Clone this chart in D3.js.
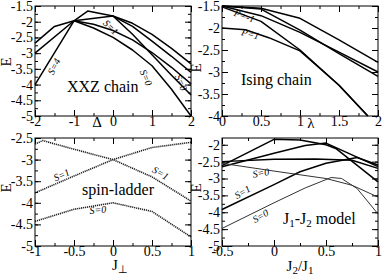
<!DOCTYPE html>
<html><head><meta charset="utf-8">
<script src="https://cdn.jsdelivr.net/npm/d3@7"></script>
<style>body{margin:0;background:#fff} svg text{font-family:"Liberation Serif",serif;fill:#000}</style>
</head><body><svg id="c" width="382" height="277"></svg>
<script>
// ---------- data ----------
// XXZ chain (x = Delta)
const xxzTicksX = [-2, -1, 0, 1, 2];
const xxzTicksY = [-5, -4.5, -4, -3.5, -3, -2.5, -2, -1.5];
const xxzA = [[-2,-2.68],[-1.5,-2.15],[-1,-1.97],[-0.5,-2.08],[0,-2.28],[0.5,-2.58],[1,-2.98],[1.5,-3.45],[2,-3.98]];
const xxzB = [[-2,-3.0],[-1,-1.97],[-0.65,-1.66],[0,-1.82],[0.5,-2.05],[1,-2.4],[1.5,-2.85],[2,-3.34]];
const xxzC = [[-2,-4.0],[-1,-1.97],[0,-1.82],[0.5,-2.15],[1,-2.62],[1.5,-3.1],[2,-3.61]];
const xxzD = [[-1,-1.97],[-0.5,-2.2],[0,-2.5],[0.5,-2.9],[1,-3.4],[1.5,-4.15],[2,-5.0]];
const xxzE = [[0,-1.82],[0.5,-2.4],[1,-3.05],[1.5,-3.7],[2,-4.33]];
// Ising chain (x = lambda)
const isingTicksX = [0, 0.5, 1, 1.5, 2];
const isingTicksY = [-4, -3.5, -3, -2.5, -2, -1.5];
const isingA = [[0,-1.5],[0.5,-1.55],[1,-1.78],[1.5,-2.27],[2,-2.78]];
const isingB = [[0,-1.5],[0.5,-1.57],[1,-2.05],[1.5,-2.58],[2,-3.1]];
const isingC = [[0,-1.5],[0.5,-1.72],[1,-2.1],[1.5,-2.55],[2,-3.0]];
const isingD = [[0,-1.52],[0.5,-1.85],[1,-2.5],[1.5,-3.3],[1.87,-4.0]];
const isingE = [[0,-2.0],[0.3,-2.04],[0.6,-2.22],[1,-2.52],[1.5,-3.3],[1.87,-4.0]];
// spin ladder (x = J_perp)
const ladderTicksX = [-1, -0.5, 0, 0.5, 1];
const ladderTicksY = [-5, -4.5, -4, -3.5, -3, -2.5];
const ladderA = [[-1,-2.64],[-0.9,-2.56],[-0.5,-2.76],[0,-3.0],[0.5,-3.4],[1,-3.96]];
const ladderB = [[-1,-3.77],[-0.5,-3.38],[0,-3.0],[0.5,-2.72],[1,-2.6]];
const ladderC = [[-1,-4.43],[-0.5,-4.15],[0,-4.0],[0.5,-4.2],[1,-4.79]];
// J1-J2 model (x = J2/J1)
const jjTicksX = [-0.5, 0, 0.5, 1];
const jjTicksY = [-5, -4.5, -4, -3.5, -3, -2.5, -2];
const jjThickA = [[-0.5,-2.62],[0,-1.84],[0.25,-1.86],[0.5,-2.0],[0.6,-2.12],[1,-3.1]];
const jjThickB = [[-0.5,-2.65],[0,-2.25],[0.3,-2.02],[0.5,-1.95],[0.75,-2.3],[1,-2.65]];
const jjThickC = [[-0.5,-2.5],[0,-2.43],[0.4,-2.42],[0.75,-2.46],[1,-2.7]];
const jjThickD = [[-0.5,-3.92],[0,-3.18],[0.25,-2.8],[0.5,-2.55],[0.8,-2.38],[1,-2.6]];
const jjThinA = [[-0.5,-2.55],[0,-2.78],[0.5,-3.0],[0.75,-3.2],[1,-3.55]];
const jjThinB = [[-0.5,-4.48],[0,-3.72],[0.3,-3.28],[0.55,-2.97],[0.65,-3.0],[0.8,-3.3],[1,-4.05]];

// ---------- drawing ----------
const FF = 'font-family:"Liberation Serif",serif';
const svg = d3.select('#c');
const line = (xs, ys) => d3.line().x(d => xs(d[0])).y(d => ys(d[1]));
const fmt = v => String(v);

function panel(o) {
  const xs = d3.scaleLinear().domain(o.xd).range([o.l, o.r]);
  const ys = d3.scaleLinear().domain(o.yd).range([o.b, o.t]);
  const g = svg.append('g');
  const minorX = d3.range(o.xd[0], o.xd[1] + 1e-9, o.xMinor);
  const minorY = d3.range(o.yd[0], o.yd[1] + 1e-9, 0.25);
  const styleAxis = sel => {
    sel.attr('font-family', null).attr('font-size', null);
    sel.select('.domain').remove();
    sel.selectAll('line').attr('stroke','#000');
    sel.selectAll('text').attr('style', FF + ';font-size:14px');
  };
  g.append('g').attr('transform',`translate(0,${o.b})`).call(d3.axisBottom(xs).tickValues(minorX).tickSize(-3).tickFormat('')).call(styleAxis);
  g.append('g').attr('transform',`translate(0,${o.t})`).call(d3.axisTop(xs).tickValues(minorX).tickSize(-3).tickFormat('')).call(styleAxis);
  g.append('g').attr('transform',`translate(${o.l},0)`).call(d3.axisLeft(ys).tickValues(minorY).tickSize(-3).tickFormat('')).call(styleAxis);
  g.append('g').attr('transform',`translate(${o.r},0)`).call(d3.axisRight(ys).tickValues(minorY).tickSize(-3).tickFormat('')).call(styleAxis);
  const xa = g.append('g').attr('transform',`translate(0,${o.b})`).call(d3.axisBottom(xs).tickValues(o.xt).tickSize(-6).tickPadding(1).tickFormat(fmt)).call(styleAxis);
  xa.selectAll('text').attr('dy','0.62em');
  g.append('g').attr('transform',`translate(0,${o.t})`).call(d3.axisTop(xs).tickValues(o.xt).tickSize(-6).tickFormat('')).call(styleAxis);
  g.append('g').attr('transform',`translate(${o.l},0)`).call(d3.axisLeft(ys).tickValues(o.yt).tickSize(-6).tickPadding(2).tickFormat(fmt)).call(styleAxis);
  g.append('g').attr('transform',`translate(${o.r},0)`).call(d3.axisRight(ys).tickValues(o.yt).tickSize(-6).tickFormat('')).call(styleAxis);
  const cp = g.append('g');
  o.series.forEach(s => {
    cp.append('path').datum(s.d).attr('d', line(xs, ys)).attr('fill','none')
      .attr('stroke', s.c || '#000').attr('stroke-width', s.w || 1.5)
      .attr('stroke-dasharray', s.dash || null).attr('stroke-linejoin','round');
  });
  g.append('rect').attr('x',o.l).attr('y',o.t).attr('width',o.r-o.l).attr('height',o.b-o.t)
    .attr('fill','none').attr('stroke','#000').attr('stroke-width',1);
  g.append('text').attr('transform',`translate(${o.eX},${o.eY}) rotate(-90)`).attr('text-anchor','middle')
    .attr('style', FF + ';font-size:15px').text('E');
  g.append('text').attr('x',o.titleX).attr('y',o.titleY).attr('style', FF + ';font-size:16px').html(o.title);
  o.labels.forEach(lb => {
    g.append('text').attr('transform',`translate(${lb[0]},${lb[1]}) rotate(${lb[2]})`)
      .attr('text-anchor','middle').attr('dominant-baseline','middle')
      .attr('style', FF + ';font-size:10px;font-style:italic').text(lb[3]);
  });
  return g;
}

const g1 = panel({l:35,r:191,t:6,b:116,xd:[-2,2],yd:[-5,-1.5],xt:xxzTicksX,yt:xxzTicksY,xMinor:0.5,
  series:[{d:xxzA},{d:xxzB},{d:xxzC},{d:xxzD},{d:xxzE}],
  eX:11,eY:62,title:'XXZ chain',titleX:67,titleY:92,
  labels:[[55,67,-63,'S=4'],[110,28,45,'S=1'],[145,78,65,'S=0'],[180,83,65,'S=0']]});
g1.append('text').attr('x',97).attr('y',127).attr('text-anchor','middle').attr('style', FF + ';font-size:15px').text('\u0394');

const g2 = panel({l:222,r:378,t:6,b:116,xd:[0,2],yd:[-4,-1.5],xt:isingTicksX,yt:isingTicksY,xMinor:0.25,
  series:[{d:isingA},{d:isingB},{d:isingC},{d:isingD},{d:isingE}],
  eX:201,eY:68,title:'Ising chain',titleX:241,titleY:85,
  labels:[[244,17,20,'P=-1'],[250,35,15,'P=1']]});
g2.append('text').attr('x',311).attr('y',128).attr('text-anchor','middle').attr('style', FF + ';font-size:15px').text('\u03bb');

const g3 = panel({l:35,r:191,t:138,b:246,xd:[-1,1],yd:[-5,-2.5],xt:ladderTicksX,yt:ladderTicksY,xMinor:0.25,
  series:[{d:ladderA,dash:'1.2,0.8',w:1.6,c:'#222'},{d:ladderB,dash:'1.2,0.8',w:1.6,c:'#222'},{d:ladderC,dash:'1.2,0.8',w:1.6,c:'#222'}],
  eX:11,eY:188,title:'spin-ladder',titleX:82,titleY:195,
  labels:[[62,176,-25,'S=1'],[160,174,30,'S=1'],[98,211,-5,'S=0']]});
g3.append('text').attr('x',120).attr('y',270).attr('text-anchor','middle').attr('style', FF + ';font-size:15px')
  .html('J<tspan font-size="11" dy="3">\u22a5</tspan>');

const g4 = panel({l:222,r:378,t:138,b:246,xd:[-0.5,1],yd:[-5,-1.8],xt:jjTicksX,yt:jjTicksY,xMinor:0.25,
  series:[{d:jjThickA},{d:jjThickB},{d:jjThickC},{d:jjThickD},{d:jjThinA,w:1,c:'#333'},{d:jjThinB,w:1,c:'#333'}],
  eX:201,eY:188,title:'J<tspan font-size="11" dy="3">1</tspan><tspan dy="-3">-J</tspan><tspan font-size="11" dy="3">2</tspan><tspan dy="-3"> model</tspan>',titleX:283,titleY:224,
  labels:[[261,174,-10,'S=0'],[243,193,-30,'S=1'],[261,217,-30,'S=0']]});
g4.append('text').attr('x',300).attr('y',271).attr('text-anchor','middle').attr('style', FF + ';font-size:15px')
  .html('J<tspan font-size="11" dy="3">2</tspan><tspan dy="-3">/J</tspan><tspan font-size="11" dy="3">1</tspan>');
</script></body></html>
